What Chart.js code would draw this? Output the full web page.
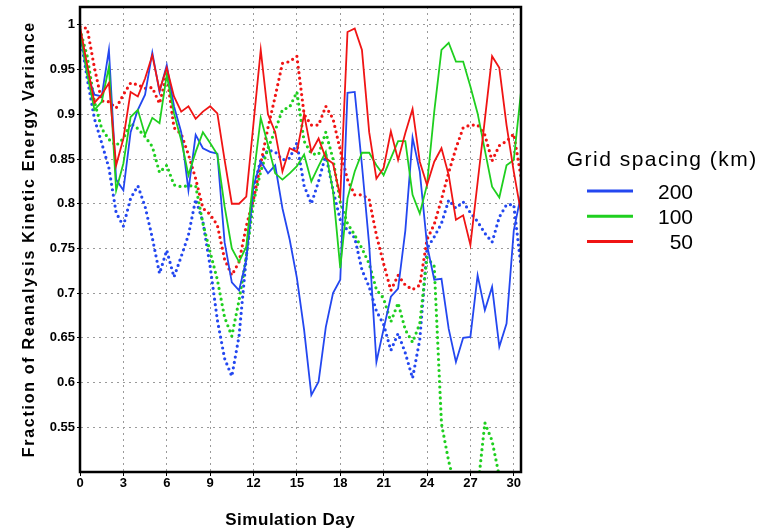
<!DOCTYPE html>
<html>
<head>
<meta charset="utf-8">
<title>Fraction of Reanalysis Kinetic Energy Variance</title>
<script src="https://cdn.jsdelivr.net/npm/chart.js@4.4.1/dist/chart.umd.min.js"></script>
<style>
  html, body { margin: 0; padding: 0; background: #fff; }
  canvas { display: block; }
</style>
</head>
<body>
<canvas id="keChart" width="774" height="530"></canvas>
<script>
// simulation days, every half day
const days = [0, 0.5, 1, 1.5, 2, 2.5, 3, 3.5, 4, 4.5,
  5, 5.5, 6, 6.5, 7, 7.5, 8, 8.5, 9, 9.5,
  10, 10.5, 11, 11.5, 12, 12.5, 13, 13.5, 14, 14.5,
  15, 15.5, 16, 16.5, 17, 17.5, 18, 18.5, 19, 19.5,
  20, 20.5, 21, 21.5, 22, 22.5, 23, 23.5, 24, 24.5,
  25, 25.5, 26, 26.5, 27, 27.5, 28, 28.5, 29, 29.5,
  30, 30.5];

const xTicks = [0, 3, 6, 9, 12, 15, 18, 21, 24, 27, 30];
const yTicks = [0.55, 0.6, 0.65, 0.7, 0.75, 0.8, 0.85, 0.9, 0.95, 1];

const spacingLabels = ['200', '100', '50'];
const seriesColors = ['#2347f0', '#1fcf1f', '#f01414'];

// solid lines
const solid200 = [0.99, 0.945, 0.922, 0.92, 0.972, 0.827, 0.815, 0.88, 0.905, 0.922,
  0.969, 0.925, 0.955, 0.909, 0.88, 0.815, 0.877, 0.862, 0.858, 0.856,
  0.757, 0.712, 0.703, 0.737, 0.82, 0.847, 0.834, 0.843, 0.795, 0.76,
  0.717, 0.659, 0.586, 0.601, 0.662, 0.70, 0.715, 0.924, 0.925, 0.843,
  0.754, 0.623, 0.66, 0.696, 0.705, 0.77, 0.874, 0.836, 0.754, 0.715,
  0.716, 0.66, 0.623, 0.65, 0.651, 0.72, 0.681, 0.707, 0.64, 0.666,
  0.77, 0.81];
const solid100 = [0.994, 0.945, 0.905, 0.914, 0.953, 0.815, 0.845, 0.897, 0.905, 0.877,
  0.896, 0.89, 0.944, 0.901, 0.871, 0.832, 0.858, 0.88, 0.868, 0.855,
  0.797, 0.75, 0.735, 0.752, 0.83, 0.896, 0.866, 0.834, 0.827, 0.834,
  0.842, 0.855, 0.825, 0.842, 0.858, 0.814, 0.728, 0.806, 0.836, 0.857,
  0.857, 0.843, 0.832, 0.851, 0.87, 0.87, 0.81, 0.789, 0.821, 0.903,
  0.972, 0.98, 0.959, 0.959, 0.931, 0.901, 0.86, 0.819, 0.807, 0.843,
  0.849, 0.925];
const solid50 = [0.998, 0.955, 0.913, 0.922, 0.935, 0.843, 0.873, 0.925, 0.92, 0.94,
  0.966, 0.927, 0.952, 0.92, 0.903, 0.909, 0.895, 0.903, 0.909, 0.901,
  0.849, 0.80, 0.80, 0.808, 0.89, 0.972, 0.90, 0.88, 0.836, 0.862,
  0.858, 0.90, 0.858, 0.873, 0.851, 0.845, 0.808, 0.992, 0.996, 0.972,
  0.88, 0.828, 0.84, 0.881, 0.849, 0.879, 0.906, 0.847, 0.821, 0.847,
  0.862, 0.832, 0.782, 0.787, 0.754, 0.824, 0.894, 0.965, 0.952, 0.888,
  0.836, 0.79];

// dotted lines
const dotted200 = [0.99, 0.94, 0.895, 0.868, 0.84, 0.79, 0.775, 0.806, 0.82, 0.797,
  0.762, 0.722, 0.748, 0.718, 0.741, 0.765, 0.805, 0.78, 0.73, 0.67,
  0.627, 0.607, 0.652, 0.74, 0.817, 0.849, 0.86, 0.858, 0.849, 0.851,
  0.868, 0.82, 0.80, 0.825, 0.855, 0.815, 0.782, 0.77, 0.762, 0.726,
  0.707, 0.68, 0.665, 0.636, 0.655, 0.633, 0.605, 0.648, 0.75, 0.763,
  0.778, 0.804, 0.795, 0.802, 0.79, 0.78, 0.767, 0.757, 0.785, 0.799,
  0.799, 0.73];
const dotted100 = [0.995, 0.965, 0.914, 0.884, 0.872, 0.865, 0.873, 0.89, 0.884, 0.875,
  0.864, 0.835, 0.843, 0.821, 0.819, 0.82, 0.82, 0.778, 0.746, 0.715,
  0.673, 0.652, 0.692, 0.741, 0.802, 0.836, 0.862, 0.882, 0.905, 0.908,
  0.925, 0.87, 0.856, 0.855, 0.88, 0.85, 0.802, 0.778, 0.765, 0.75,
  0.733, 0.704, 0.694, 0.668, 0.689, 0.659, 0.645, 0.666, 0.74, 0.73,
  0.554, 0.512, 0.48, 0.46, 0.45, 0.48, 0.555, 0.535, 0.495, 0.46,
  0.44, 0.43];
const dotted50 = [0.998, 0.996, 0.952, 0.915, 0.914, 0.907, 0.922, 0.935, 0.933, 0.929,
  0.93, 0.912, 0.945, 0.885, 0.878, 0.855, 0.828, 0.795, 0.788, 0.776,
  0.738, 0.72, 0.735, 0.775, 0.805, 0.845, 0.885, 0.92, 0.957, 0.959,
  0.965, 0.90, 0.888, 0.888, 0.909, 0.895, 0.86, 0.827, 0.81, 0.81,
  0.805, 0.765, 0.733, 0.703, 0.72, 0.709, 0.704, 0.709, 0.76, 0.777,
  0.805, 0.835, 0.862, 0.885, 0.888, 0.888, 0.877, 0.848, 0.865, 0.87,
  0.878, 0.83];

function toPoints(values) {
  return values.map((v, i) => ({ x: days[i], y: v }));
}

function solidSet(values, color) {
  return { data: toPoints(values), borderColor: color, borderWidth: 1.8,
    pointRadius: 0, tension: 0, fill: false };
}

function dottedSet(values, color) {
  return { data: toPoints(values), borderColor: color, borderWidth: 3.2,
    borderDash: [0, 5.5], borderCapStyle: 'round',
    pointRadius: 0, tension: 0, fill: false };
}

// draws text stretched to a given width with letter spacing
function fittedText(ctx, text, x, y, width) {
  ctx.letterSpacing = '0px';
  const w = ctx.measureText(text).width;
  const s = (width - w) / text.length;
  ctx.letterSpacing = s + 'px';
  ctx.fillText(text, x + s / 2, y);
  ctx.letterSpacing = '0px';
}

// black box round the plot area
const framePlugin = {
  id: 'frame',
  afterDatasetsDraw(chart) {
    const { ctx, chartArea: a } = chart;
    ctx.save();
    ctx.strokeStyle = '#000';
    ctx.lineWidth = 2.5;
    ctx.strokeRect(a.left, a.top, a.right - a.left, a.bottom - a.top);
    ctx.restore();
  }
};

// axis titles and legend
const textPlugin = {
  id: 'texts',
  afterDraw(chart) {
    const { ctx } = chart;
    ctx.save();
    ctx.fillStyle = '#000';
    ctx.textAlign = 'center';
    ctx.textBaseline = 'alphabetic';

    ctx.font = 'bold 17px "Liberation Sans", Arial, sans-serif';
    fittedText(ctx, 'Simulation Day', 290, 525, 130);

    ctx.save();
    ctx.translate(34, 240);
    ctx.rotate(-Math.PI / 2);
    ctx.font = 'bold 16px "Liberation Sans", Arial, sans-serif';
    fittedText(ctx, 'Fraction of Reanalysis Kinetic Energy Variance', 0, 0, 436);
    ctx.restore();

    ctx.textAlign = 'left';
    ctx.font = '21px "Liberation Sans", Arial, sans-serif';
    fittedText(ctx, 'Grid spacing (km)', 566, 166, 191);

    ctx.textAlign = 'right';
    spacingLabels.forEach((label, i) => {
      const y = 191 + i * 25.3;
      ctx.strokeStyle = seriesColors[i];
      ctx.lineWidth = 3;
      ctx.beginPath();
      ctx.moveTo(587, y);
      ctx.lineTo(633, y);
      ctx.stroke();
      ctx.fillText(label, 693, y + 7.5);
    });
    ctx.restore();
  }
};

const tickFont = { family: '"Liberation Sans", Arial, sans-serif', size: 13, weight: 'bold' };

const chart = new Chart(document.getElementById('keChart').getContext('2d'), {
  type: 'line',
  data: {
    datasets: [
      solidSet(solid50, seriesColors[2]),
      solidSet(solid100, seriesColors[1]),
      solidSet(solid200, seriesColors[0]),
      dottedSet(dotted50, seriesColors[2]),
      dottedSet(dotted100, seriesColors[1]),
      dottedSet(dotted200, seriesColors[0])
    ]
  },
  options: {
    responsive: false,
    animation: false,
    events: [],
    layout: { padding: { top: 7, right: 253, left: 0, bottom: 0 } },
    plugins: {
      legend: { display: false },
      tooltip: { enabled: false }
    },
    scales: {
      x: {
        type: 'linear',
        min: 0,
        max: 30.5,
        afterBuildTicks: (s) => { s.ticks = xTicks.map(v => ({ value: v })); },
        afterFit: (s) => { s.height = 58; s.paddingLeft = 0; s.paddingRight = 0; },
        ticks: { color: '#000', font: tickFont, padding: 0, maxRotation: 0, autoSkip: false },
        grid: { color: '#9a9a9a', lineWidth: 1, tickLength: 4, tickColor: '#000', tickBorderDash: [] },
        border: { display: true, color: '#000', width: 2, dash: [2, 4] }
      },
      y: {
        min: 0.5,
        max: 1.02,
        afterBuildTicks: (s) => { s.ticks = yTicks.map(v => ({ value: v })); },
        afterFit: (s) => { s.width = 80; s.paddingTop = 0; s.paddingBottom = 0; },
        ticks: {
          color: '#000', font: tickFont, padding: 2, autoSkip: false,
          callback: (v) => String(Math.round(v * 100) / 100)
        },
        grid: { color: '#9a9a9a', lineWidth: 1, tickLength: 3, tickColor: '#000', tickBorderDash: [] },
        border: { display: true, color: '#000', width: 2, dash: [2, 4] }
      }
    }
  },
  plugins: [framePlugin, textPlugin]
});
</script>
</body>
</html>
